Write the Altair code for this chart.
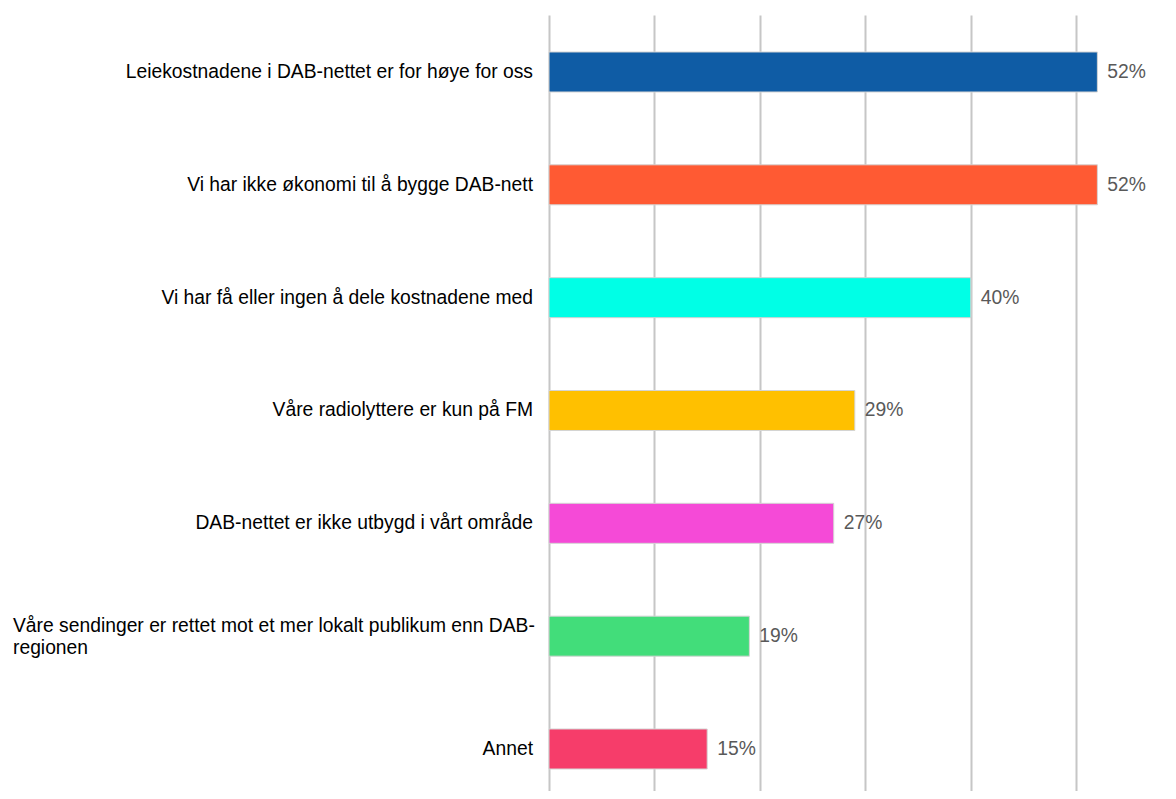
import altair as alt
import pandas as pd

categories = [
    "Leiekostnadene i DAB-nettet er for høye for oss",
    "Vi har ikke økonomi til å bygge DAB-nett",
    "Vi har få eller ingen å dele kostnadene med",
    "Våre radiolyttere er kun på FM",
    "DAB-nettet er ikke utbygd i vårt område",
    "Våre sendinger er rettet mot et mer lokalt publikum enn DAB-regionen",
    "Annet",
]
display_labels = [
    "Leiekostnadene i DAB-nettet er for høye for oss",
    "Vi har ikke økonomi til å bygge DAB-nett",
    "Vi har få eller ingen å dele kostnadene med",
    "Våre radiolyttere er kun på FM",
    "DAB-nettet er ikke utbygd i vårt område",
    "Våre sendinger er rettet mot et mer lokalt publikum enn DAB-\nregionen",
    "Annet",
]
wrapped = [False, False, False, False, False, True, False]
values = [52, 52, 40, 29, 27, 19, 15]
colors = ["#0F5CA5", "#FF5A33", "#00FFE6", "#FFC000", "#F54AD7", "#42DD7A", "#F63D6A"]
grid_ticks = [0, 10, 20, 30, 40, 50]

df = pd.DataFrame({
    "cat": categories,
    "label": display_labels,
    "wrapped": wrapped,
    "value": values,
    "pct": [f"{v}%" for v in values],
})

FONT = "Liberation Sans, Arial, sans-serif"
FS = 19.3

y_enc = alt.Y(
    "cat:N",
    sort=categories,
    scale=alt.Scale(paddingInner=0.6455, paddingOuter=0.2614, align=0.627),
    axis=None,
)
x_scale = alt.Scale(domain=[0, 55], nice=False, zero=True)

base = alt.Chart(df)

bars = base.mark_bar(stroke="#D4D4D4", strokeWidth=1).encode(
    x=alt.X(
        "value:Q",
        scale=x_scale,
        axis=alt.Axis(
            values=grid_ticks, labels=False, ticks=False, domain=False,
            title=None, grid=True, gridColor="#C6C6C6", gridWidth=2,
        ),
    ),
    y=y_enc,
    color=alt.Color("cat:N", scale=alt.Scale(domain=categories, range=colors), legend=None),
)

values_text = base.mark_text(
    align="left", baseline="middle", dx=10, fontSize=FS, font=FONT, color="#595959"
).encode(
    x=alt.X("value:Q", scale=x_scale),
    y=y_enc,
    text="pct:N",
)

labels_right = base.transform_filter("!datum.wrapped").mark_text(
    align="right", baseline="middle", fontSize=FS, font=FONT, color="#000000"
).encode(
    x=alt.value(-16),
    y=y_enc,
    text="label:N",
)

labels_left = base.transform_filter("datum.wrapped").mark_text(
    align="left", baseline="middle", fontSize=FS, font=FONT, color="#000000",
    lineBreak="\n", lineHeight=22, dy=-10,
).encode(
    x=alt.value(-536),
    y=y_enc,
    text="label:N",
)

chart = alt.layer(bars, values_text, labels_right, labels_left).properties(
    width=580,
    height=776,
    autosize=alt.AutoSizeParams(type="none"),
    padding={"left": 541, "top": 7, "right": 35, "bottom": 0},
).configure_view(stroke=None)

chart.save("out.html", embed_options={"renderer": "svg", "actions": False})
